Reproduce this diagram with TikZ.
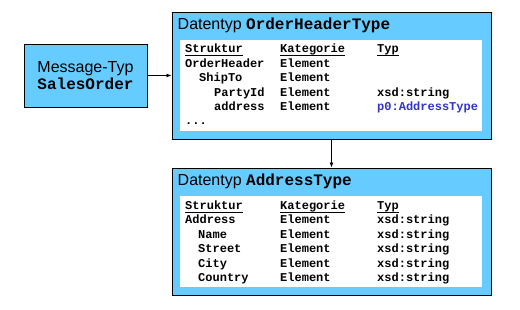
\documentclass[tikz,border=0pt]{standalone}
\usepackage{fontspec}
\setmainfont{Liberation Sans}
\newfontfamily\cmono{Liberation Mono}
\usetikzlibrary{arrows.meta}
\definecolor{boxblue}{RGB}{102,204,255}
\definecolor{typblue}{RGB}{51,51,204}
\begin{document}
\begin{tikzpicture}[x=1pt,y=-1pt,
  bluebox/.style={draw=black, line width=0.9pt, fill=boxblue, inner sep=0pt},
  whitebox/.style={draw=none, fill=white, inner sep=0pt},
  ttl/.style={anchor=base west, inner sep=0pt, font=\fontsize{16}{18}\selectfont},
  cell/.style={anchor=base west, inner sep=0pt, font=\fontsize{12}{14}\selectfont\cmono\bfseries},
  hdr/.style={cell},
  uline/.style={line width=0.8pt},
  conn/.style={line width=0.8pt, -{Latex[length=5pt,width=4pt]}}
]
\useasboundingbox (0,0) rectangle (520,310);

% message box
\node[bluebox, minimum width=123pt, minimum height=63pt, align=center,
      font=\fontsize{16}{17.5}\selectfont] (msg) at (85.5,75.5)
      {Message-Typ\\{\cmono\bfseries SalesOrder}};

% OrderHeaderType box
\node[bluebox, minimum width=319pt, minimum height=127pt] (ohd) at (331.5,75.5) {};
\node[whitebox, minimum width=302pt, minimum height=91pt] (ohdin) at (331,85.5) {};
\node[ttl] (ohdt) at (177.5,29.5) {Datentyp {\cmono\bfseries OrderHeaderType}};

\node[hdr] (h1) at (185,53) {Struktur};
\node[hdr] (h2) at (280,53) {Kategorie};
\node[hdr] (h3) at (377,53) {Typ};
\draw[uline] ([yshift=-2.5pt]h1.base west) -- ([yshift=-2.5pt]h1.base east);
\draw[uline] ([yshift=-2.5pt]h2.base west) -- ([yshift=-2.5pt]h2.base east);
\draw[uline] ([yshift=-2.5pt]h3.base west) -- ([yshift=-2.5pt]h3.base east);

\node[cell] (r1a) at (185,67.5) {OrderHeader};
\node[cell] (r1b) at (280,67.5) {Element};
\node[cell] (r2a) at (199,82) {ShipTo};
\node[cell] (r2b) at (280,82) {Element};
\node[cell] (r3a) at (214,96.5) {PartyId};
\node[cell] (r3b) at (280,96.5) {Element};
\node[cell] (r3c) at (377,96.5) {xsd:string};
\node[cell] (r4a) at (214,111) {address};
\node[cell] (r4b) at (280,111) {Element};
\node[cell, text=typblue] (r4c) at (377,111) {p0:AddressType};
\node[cell] (r5a) at (185,125) {...};

% AddressType box
\node[bluebox, minimum width=319pt, minimum height=127pt] (adr) at (331.5,231.5) {};
\node[whitebox, minimum width=302pt, minimum height=91pt] (adrin) at (331,241.5) {};
\node[ttl] (adrt) at (177.5,185.5) {Datentyp {\cmono\bfseries AddressType}};

\node[hdr] (g1) at (185,210) {Struktur};
\node[hdr] (g2) at (280,210) {Kategorie};
\node[hdr] (g3) at (377,210) {Typ};
\draw[uline] ([yshift=-2.5pt]g1.base west) -- ([yshift=-2.5pt]g1.base east);
\draw[uline] ([yshift=-2.5pt]g2.base west) -- ([yshift=-2.5pt]g2.base east);
\draw[uline] ([yshift=-2.5pt]g3.base west) -- ([yshift=-2.5pt]g3.base east);

\node[cell] (s1a) at (185,224) {Address};
\node[cell] (s1b) at (280,224) {Element};
\node[cell] (s1c) at (377,224) {xsd:string};
\node[cell] (s2a) at (198,238.5) {Name};
\node[cell] (s2b) at (280,238.5) {Element};
\node[cell] (s2c) at (377,238.5) {xsd:string};
\node[cell] (s3a) at (198,252.5) {Street};
\node[cell] (s3b) at (280,252.5) {Element};
\node[cell] (s3c) at (377,252.5) {xsd:string};
\node[cell] (s4a) at (198,267) {City};
\node[cell] (s4b) at (280,267) {Element};
\node[cell] (s4c) at (377,267) {xsd:string};
\node[cell] (s5a) at (198,281) {Country};
\node[cell] (s5b) at (280,281) {Element};
\node[cell] (s5c) at (377,281) {xsd:string};

% connectors
\draw[conn] (msg) -- (ohd);
\draw[conn] (ohd) -- (adr);
\end{tikzpicture}
\end{document}
